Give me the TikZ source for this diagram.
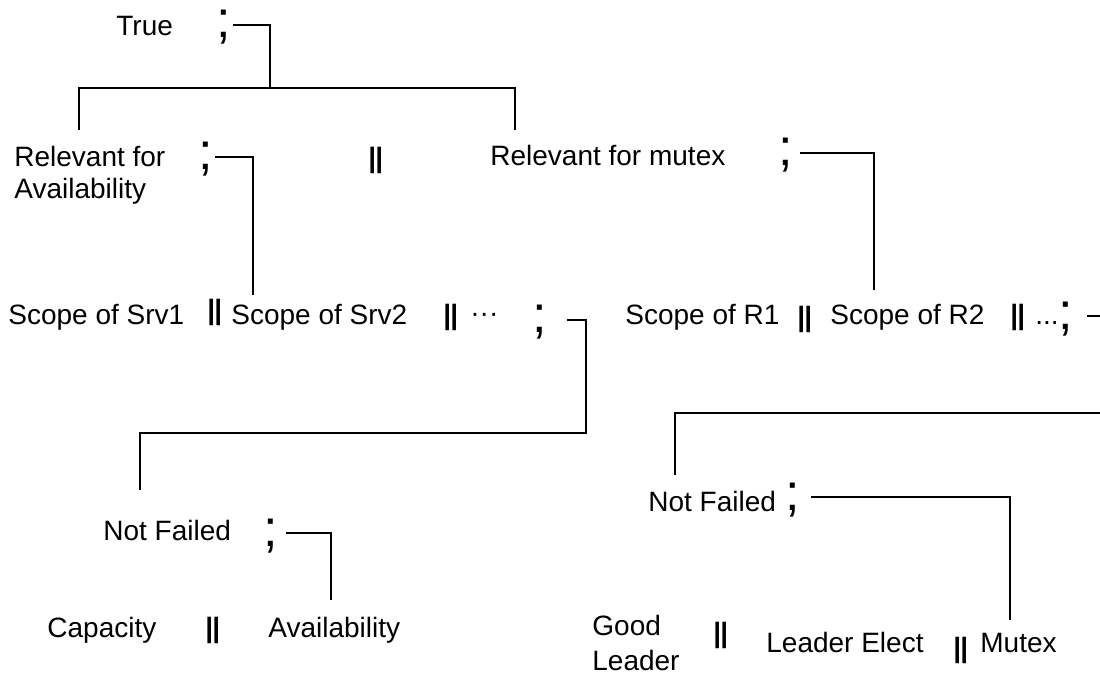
\documentclass[tikz,border=0pt]{standalone}
\usepackage{fontspec}
\setmainfont{Liberation Sans}
\newcommand{\orbar}{\textbf{|\kern-0.5pt|}}
\begin{document}
\begin{tikzpicture}
  [x=0.5pt,y=-0.5pt,
   every node/.style={inner sep=0pt,anchor=base west,font=\fontsize{14}{16.5}\selectfont},
   semi/.style={font=\fontsize{26}{26}\selectfont},
   wire/.style={line width=1pt}]
  \useasboundingbox (0,0) rectangle (1100,674);
  \clip (0,0) rectangle (1100,674);

  % top: True ; split
  \node (tru) at (116,36) {True};
  \node[semi] (s1) at (216,38) {;};

  % second row (multi-line nodes sit on their last line)
  \node[align=left] (rA) at (14,199) {Relevant for\\Availability};
  \node[semi] (sA) at (198,170) {;};
  \node (pA) at (368,168) {\orbar};
  \node (rB) at (490,166) {Relevant for mutex};
  \node[semi] (sB) at (778,166) {;};

  % third row, servers
  \node (c1) at (8,325) {Scope of Srv1};
  \node (pC1) at (207,320) {\orbar};
  \node (c2) at (231,325) {Scope of Srv2};
  \node (pC2) at (443,325) {\orbar};
  \node (dC) at (470,322) {···};
  \node[semi] (sC) at (532,333) {;};

  % third row, resources
  \node (d1) at (625,325) {Scope of R1};
  \node (pD1) at (797,327) {\orbar};
  \node (d2) at (830,325) {Scope of R2};
  \node (pD2) at (1010,325) {\orbar};
  \node (dD) at (1035,325) {...};
  \node[semi] (sD) at (1058,329) {;};

  % fourth row
  \node (nA) at (103,540) {Not Failed};
  \node[semi] (sE) at (263,546) {;};
  \node (nB) at (648,511) {Not Failed};
  \node[semi] (sF) at (785,510) {;};

  % leaves
  \node (cap) at (47,637) {Capacity};
  \node (pE) at (205,637) {\orbar};
  \node (av) at (268,637) {Availability};
  \node[align=left,font=\fontsize{14}{17.5}\selectfont] (gl) at (592,670) {Good\\Leader};
  \node (pF1) at (713,642) {\orbar};
  \node (le) at (766,653) {Leader Elect};
  \node (pF2) at (953,657) {\orbar};
  \node (mu) at (980,653) {Mutex};

  % corners and loose ends
  \coordinate (j1) at (270,88);
  \coordinate (a1) at (79,130);
  \coordinate (a2) at (515,130);
  \coordinate (b1) at (253,295);
  \coordinate (b2) at (874,290);
  \coordinate (k1) at (586,433);
  \coordinate (b3) at (140,490);
  \coordinate (k2) at (1130,413);
  \coordinate (b4) at (675,475);
  \coordinate (b5) at (331,600);
  \coordinate (b6) at (1010,620);

  \path[draw,wire]
    ([xshift=1pt,yshift=1.5pt]s1.east) -| (j1)
    (a1) |- (j1) -| (a2)
    ([xshift=1pt,yshift=1.5pt]sA.east) -| (b1)
    ([xshift=3.5pt,yshift=1.5pt]sB.east) -| (b2)
    ([xshift=10pt,yshift=1.5pt]sC.east) -| (k1) -| (b3)
    ([xshift=7pt,yshift=1.5pt]sD.east) -| (k2) -| (b4)
    ([xshift=4pt,yshift=1.5pt]sE.east) -| (b5)
    ([xshift=5.5pt,yshift=1.5pt]sF.east) -| (b6)
    ;
\end{tikzpicture}
\end{document}
